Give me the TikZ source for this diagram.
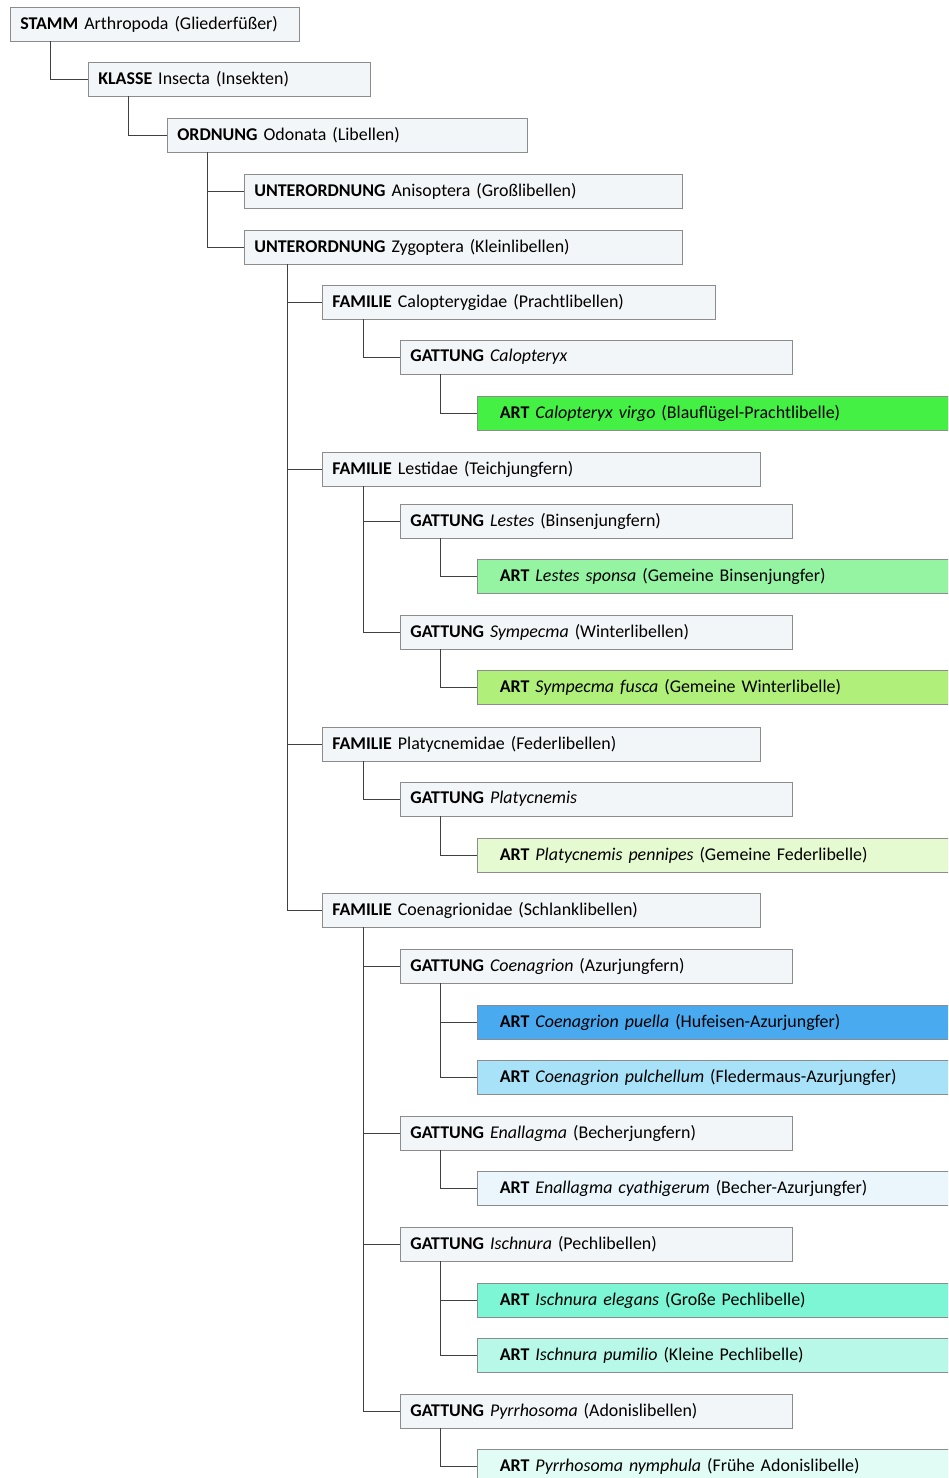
\documentclass[tikz,border=0pt]{standalone}
\usepackage{fontspec}
\setmainfont{Carlito}
\usetikzlibrary{positioning}

\definecolor{boxline}{RGB}{140,140,140}
\definecolor{boxfill}{RGB}{243,246,248}
\definecolor{virgo}{RGB}{68,240,68}
\definecolor{sponsa}{RGB}{148,244,162}
\definecolor{fusca}{RGB}{176,240,122}
\definecolor{pennipes}{RGB}{229,250,208}
\definecolor{puella}{RGB}{74,170,240}
\definecolor{pulchellum}{RGB}{168,226,248}
\definecolor{cyathi}{RGB}{234,246,252}
\definecolor{elegans}{RGB}{124,246,212}
\definecolor{pumilio}{RGB}{184,248,232}
\definecolor{nymphula}{RGB}{224,252,244}

\tikzset{
  taxon/.style={draw=boxline,fill=boxfill,anchor=west,minimum height=0.68cm,inner xsep=0.2cm,inner ysep=0pt,align=left,text width=#1,font=\fontsize{10.2}{12}\selectfont},
  art/.style={taxon=8.8cm,inner xsep=0.45cm,fill=#1},
  link/.style={draw=black!75,line width=0.5pt}
}

\begin{document}
\begin{tikzpicture}[x=0.02cm,y=-0.02cm]
				\clip (0,0) rectangle (948,1478);
				\useasboundingbox (0,0) rectangle (948,1478);
				\node[taxon=5.38cm] at (10,24) (stamm) {\textbf{STAMM} Arthropoda (Gliederfüßer)};
				\node[taxon=5.24cm] at (88,79) (klasse) {\textbf{KLASSE} Insecta (Insekten)};
				\node[taxon=6.8cm] at (167,135) (ordnung) {\textbf{ORDNUNG} Odonata (Libellen)};
				\node[taxon=8.36cm] at (244,191) (aniso) {\textbf{UNTERORDNUNG} Anisoptera (Großlibellen)};
				\node[taxon=8.36cm] at (244,247) (zygo) {\textbf{UNTERORDNUNG} Zygoptera (Kleinlibellen)};
				
				\node[taxon=7.46cm] at (322,302) (calfam) {\textbf{FAMILIE} Calopterygidae (Prachtlibellen)};
				\node[taxon=7.44cm] at (400,357) (calgen) {\textbf{GATTUNG} \textit{Calopteryx}};
				\node[art=virgo] at (477,413) (calvirgo) {\textbf{ART} \textit{Calopteryx virgo} (Blauflügel-Prachtlibelle)};
				
				\node[taxon=8.36cm] at (322,469) (lesfam) {\textbf{FAMILIE} Lestidae (Teichjungfern)};
				\node[taxon=7.44cm] at (400,521) (lesgen) {\textbf{GATTUNG} \textit{Lestes} (Binsenjungfern)};
				\node[art=sponsa] at (477,576) (lessponsa) {\textbf{ART} \textit{Lestes sponsa} (Gemeine Binsenjungfer)};
				\node[taxon=7.44cm] at (400,632) (symgen) {\textbf{GATTUNG} \textit{Sympecma} (Winterlibellen)};
				\node[art=fusca] at (477,687) (symfusca) {\textbf{ART} \textit{Sympecma fusca} (Gemeine Winterlibelle)};
				
				\node[taxon=8.36cm] at (322,744) (platfam) {\textbf{FAMILIE} Platycnemidae (Federlibellen)};
				\node[taxon=7.44cm] at (400,799) (platgen) {\textbf{GATTUNG} \textit{Platycnemis}};
				\node[art=pennipes] at (477,855) (platpenn) {\textbf{ART} \textit{Platycnemis pennipes} (Gemeine Federlibelle)};
				
				\node[taxon=8.36cm] at (322,910) (coefam) {\textbf{FAMILIE} Coenagrionidae (Schlanklibellen)};
				\node[taxon=7.44cm] at (400,966) (coegen) {\textbf{GATTUNG} \textit{Coenagrion} (Azurjungfern)};
				\node[art=puella] at (477,1022) (coepuella) {\textbf{ART} \textit{Coenagrion puella} (Hufeisen-Azurjungfer)};
				\node[art=pulchellum] at (477,1077) (coepulch) {\textbf{ART} \textit{Coenagrion pulchellum} (Fledermaus-Azurjungfer)};
				\node[taxon=7.44cm] at (400,1133) (enagen) {\textbf{GATTUNG} \textit{Enallagma} (Becherjungfern)};
				\node[art=cyathi] at (477,1188) (enacyath) {\textbf{ART} \textit{Enallagma cyathigerum} (Becher-Azurjungfer)};
				\node[taxon=7.44cm] at (400,1244) (iscgen) {\textbf{GATTUNG} \textit{Ischnura} (Pechlibellen)};
				\node[art=elegans] at (477,1300) (iscelegans) {\textbf{ART} \textit{Ischnura elegans} (Große Pechlibelle)};
				\node[art=pumilio] at (477,1355) (iscpumilio) {\textbf{ART} \textit{Ischnura pumilio} (Kleine Pechlibelle)};
				\node[taxon=7.44cm] at (400,1411) (pyrgen) {\textbf{GATTUNG} \textit{Pyrrhosoma} (Adonislibellen)};
				\node[art=nymphula] at (477,1466) (pyrnymph) {\textbf{ART} \textit{Pyrrhosoma nymphula} (Frühe Adonislibelle)};
				
				\draw[link] (stamm.south west) ++(40,0) |- (klasse.west);
				\draw[link] (klasse.south west) ++(40,0) |- (ordnung.west);
				\draw[link] (ordnung.south west) ++(40,0) |- (aniso.west);
				\draw[link] (ordnung.south west) ++(40,0) |- (zygo.west);
				\foreach \fam in {calfam,lesfam,platfam,coefam}
					\draw[link] (zygo.south west) ++(43,0) |- (\fam.west);
				\draw[link] (calfam.south west) ++(41,0) |- (calgen.west);
				\draw[link] (calgen.south west) ++(40,0) |- (calvirgo.west);
				\draw[link] (lesfam.south west) ++(41,0) |- (lesgen.west);
				\draw[link] (lesfam.south west) ++(41,0) |- (symgen.west);
				\draw[link] (lesgen.south west) ++(40,0) |- (lessponsa.west);
				\draw[link] (symgen.south west) ++(40,0) |- (symfusca.west);
				\draw[link] (platfam.south west) ++(41,0) |- (platgen.west);
				\draw[link] (platgen.south west) ++(40,0) |- (platpenn.west);
				\foreach \gen in {coegen,enagen,iscgen,pyrgen}
					\draw[link] (coefam.south west) ++(41,0) |- (\gen.west);
				\draw[link] (coegen.south west) ++(40,0) |- (coepuella.west);
				\draw[link] (coegen.south west) ++(40,0) |- (coepulch.west);
				\draw[link] (enagen.south west) ++(40,0) |- (enacyath.west);
				\draw[link] (iscgen.south west) ++(40,0) |- (iscelegans.west);
				\draw[link] (iscgen.south west) ++(40,0) |- (iscpumilio.west);
				\draw[link] (pyrgen.south west) ++(40,0) |- (pyrnymph.west);
\end{tikzpicture}
\end{document}
